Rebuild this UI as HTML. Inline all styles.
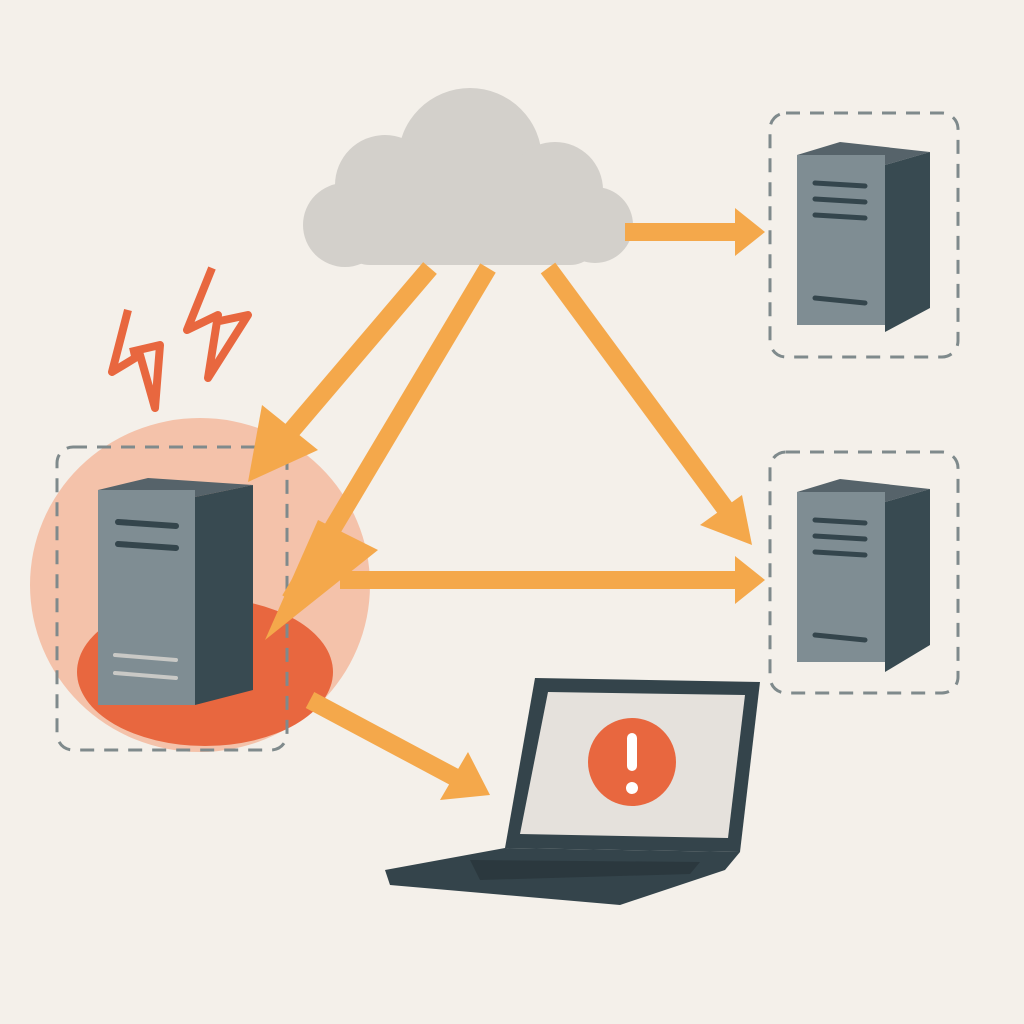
<!DOCTYPE html>
<html><head><meta charset="utf-8"><style>html,body{margin:0;padding:0;background:#f4f0ea}svg{display:block}</style></head>
<body>
<svg width="1024" height="1024" viewBox="0 0 1024 1024" xmlns="http://www.w3.org/2000/svg">
<rect width="1024" height="1024" fill="#f4f0ea"/>
<ellipse cx="200" cy="585" rx="170" ry="167" fill="#f4c2aa"/>
<ellipse cx="205" cy="672" rx="128" ry="74" fill="#e8673f"/>
<g fill="none" stroke="#7f8a8c" stroke-width="3" stroke-dasharray="14 10">
<rect x="57" y="447" width="230" height="303" rx="16"/>
<rect x="770" y="113" width="188" height="244" rx="16"/>
<rect x="770" y="452" width="188" height="241" rx="16"/>
</g>
<g fill="#d3d0cb">
<circle cx="470" cy="160" r="72"/>
<circle cx="385" cy="185" r="50"/>
<circle cx="555" cy="190" r="48"/>
<circle cx="345" cy="225" r="42"/>
<circle cx="595" cy="225" r="38"/>
<rect x="340" y="200" width="260" height="65" rx="30"/>
</g>
<g stroke="#f4a84b" stroke-width="18" fill="none">
<line x1="625" y1="232" x2="740" y2="232"/>
<line x1="430" y1="268" x2="275" y2="450"/>
<line x1="488" y1="268" x2="290" y2="600"/>
<line x1="548" y1="268" x2="730" y2="515"/>
<line x1="340" y1="580" x2="740" y2="580"/>
<line x1="310" y1="700" x2="460" y2="780"/>
</g>
<g fill="#f4a84b">
<polygon points="735,208 765,232 735,256"/>
<polygon points="262,405 318,450 248,482"/>
<polygon points="318,520 378,550 265,640"/>
<polygon points="752,545 700,525 742,495"/>
<polygon points="735,556 765,580 735,604"/>
<polygon points="490,795 440,800 468,752"/>
</g>
<g>
<polygon points="98,490 148,478 253,485 195,497" fill="#56636a"/>
<polygon points="195,497 253,485 253,690 195,705" fill="#384a51"/>
<rect x="98" y="490" width="97" height="215" fill="#7f8d93"/>
<g stroke="#34454c" stroke-width="6" stroke-linecap="round"><line x1="118" y1="522" x2="176" y2="526"/><line x1="118" y1="544" x2="176" y2="548"/></g>
<g stroke="#c9c9c6" stroke-width="4" stroke-linecap="round"><line x1="115" y1="655" x2="176" y2="660"/><line x1="115" y1="673" x2="176" y2="678"/></g>
</g>
<g>
<polygon points="797,155 840,142 930,152 885,165" fill="#56636a"/>
<polygon points="885,165 930,152 930,308 885,332" fill="#384a51"/>
<rect x="797" y="155" width="88" height="170" fill="#7f8d93"/>
<g stroke="#34454c" stroke-width="5" stroke-linecap="round"><line x1="815" y1="183" x2="865" y2="186"/><line x1="815" y1="199" x2="865" y2="202"/><line x1="815" y1="215" x2="865" y2="218"/><line x1="815" y1="298" x2="865" y2="303"/></g>
</g>
<g>
<polygon points="797,492 840,479 930,489 885,502" fill="#56636a"/>
<polygon points="885,502 930,489 930,645 885,672" fill="#384a51"/>
<rect x="797" y="492" width="88" height="170" fill="#7f8d93"/>
<g stroke="#34454c" stroke-width="5" stroke-linecap="round"><line x1="815" y1="520" x2="865" y2="523"/><line x1="815" y1="536" x2="865" y2="539"/><line x1="815" y1="552" x2="865" y2="555"/><line x1="815" y1="635" x2="865" y2="640"/></g>
</g>
<g fill="none" stroke="#e8673f" stroke-width="8" stroke-linejoin="round">
<polyline points="128,310 112,372 140,355 155,408 160,345 130,352"/>
<polyline points="212,268 187,330 218,315 208,378 248,315 215,322"/>
</g>
<polygon points="535,678 760,682 740,852 505,848" fill="#34444b"/>
<polygon points="548,692 745,695 728,838 520,834" fill="#e5e1dc"/>
<circle cx="632" cy="762" r="44" fill="#e8673f"/>
<rect x="627" y="733" width="10" height="38" rx="5" fill="#fff"/>
<circle cx="632" cy="788" r="6" fill="#fff"/>
<polygon points="505,848 740,852 725,870 620,905 390,885 385,870" fill="#34444b"/>
<polygon points="470,860 700,862 690,874 480,880" fill="#2b383e"/>
</svg>
</body></html>
